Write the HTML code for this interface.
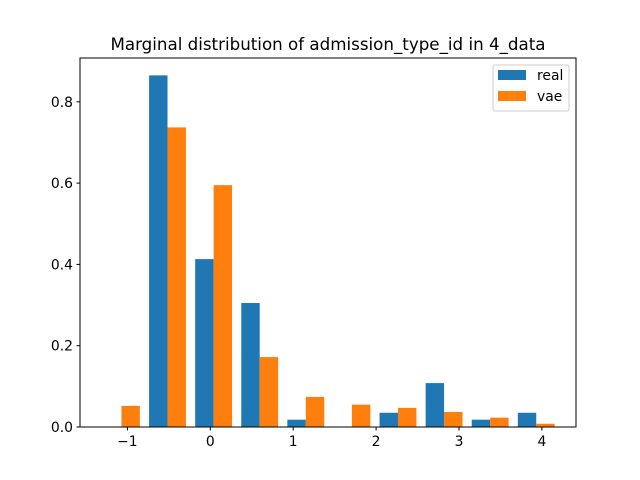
<!DOCTYPE html>
<html><head><meta charset="utf-8"><style>body{margin:0;background:#fff}svg{display:block;font-family:"DejaVu Sans","Liberation Sans",sans-serif}</style></head>
<body>
<svg id="c" width="640" height="480"></svg>
<script>
const binLefts=[-1.35,-0.794,-0.238,0.318,0.874,1.43,1.986,2.542,3.098,3.654];
const binWidth=0.556;
const realVals=[0,0.865,0.413,0.305,0.018,0,0.035,0.108,0.018,0.035];
const vaeVals=[0.052,0.737,0.595,0.172,0.074,0.055,0.047,0.037,0.023,0.008];
const xTicks=[-1,0,1,2,3,4];
const xTickLabels=["\u22121","0","1","2","3","4"];
const yTicks=[0,0.2,0.4,0.6,0.8];
const yTickLabels=["0.0","0.2","0.4","0.6","0.8"];
const L=80,R=576,T=58,B=427;
const x=v=>210.3+v*82.9;
const y=v=>B-v*406.5;
const svg=document.getElementById('c');
const NS='http://www.w3.org/2000/svg';
function mk(t,a,p){const e=document.createElementNS(NS,t);for(const k in a)e.setAttribute(k,a[k]);(p||svg).appendChild(e);return e;}
binLefts.forEach((l,i)=>{
  const w=0.4*binWidth;
  const b1=mk('rect',{x:x(l+0.1*binWidth),y:y(realVals[i]),width:x(l+0.1*binWidth+w)-x(l+0.1*binWidth),height:B-y(realVals[i]),fill:'#1f77b4'});
  
  
  const b2=mk('rect',{x:x(l+0.1*binWidth+w),y:y(vaeVals[i]),width:x(l+0.1*binWidth+2*w)-x(l+0.1*binWidth+w),height:B-y(vaeVals[i]),fill:'#ff7f0e'});
  
  
});
const frame=mk('rect',{x:L,y:T,width:R-L,height:B-T,fill:'none',stroke:'#000','stroke-width':1});


xTicks.forEach((v,i)=>{
  mk('line',{x1:x(v),x2:x(v),y1:B,y2:B+3.5,stroke:'#000'});
  const t=mk('text',{x:x(v),y:B+19,'font-size':13.9,'text-anchor':'middle'});t.textContent=xTickLabels[i];
  
  
});
yTicks.forEach((v,i)=>{
  mk('line',{x1:L-3.5,x2:L,y1:y(v),y2:y(v),stroke:'#000'});
  const t=mk('text',{x:L-7,y:y(v)+5,'font-size':13.9,'text-anchor':'end'});t.textContent=yTickLabels[i];
  
  
});
const title=mk('text',{x:328,y:50,'font-size':16.7,'text-anchor':'middle'});
title.textContent='Marginal distribution of admission_type_id in 4_data';


const lg=mk('g',{});


mk('rect',{x:493,y:65,width:76,height:46,rx:2,fill:'#fff',stroke:'#ccc'},lg);
mk('rect',{x:498,y:70,width:28,height:10,fill:'#1f77b4'},lg);
mk('rect',{x:498,y:91,width:28,height:10,fill:'#ff7f0e'},lg);
const t1=mk('text',{x:537,y:80,'font-size':13.9},lg);t1.textContent='real';
const t2=mk('text',{x:537,y:101,'font-size':13.9},lg);t2.textContent='vae';
</script>
</body></html>
